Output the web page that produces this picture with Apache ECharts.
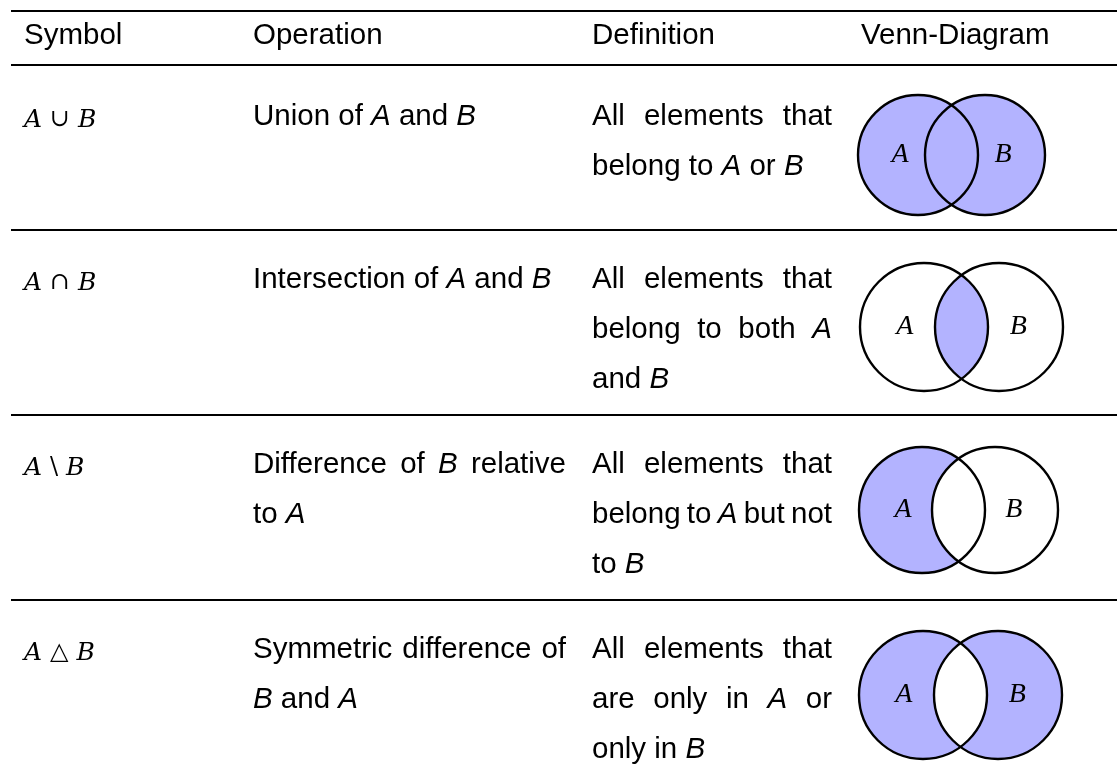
<!DOCTYPE html>
<html><head><meta charset="utf-8">
<script src="https://cdn.jsdelivr.net/npm/echarts@6/dist/echarts.min.js"></script>
<style>html,body{margin:0;padding:0;background:#fff}#c{width:1117px;height:778px}</style>
</head><body><div id="c"></div>
<script>
// ---------------- data ----------------
const headers = ['Symbol', 'Operation', 'Definition', 'Venn-Diagram'];
const symbolLeft = ['A', 'A', 'A', 'A'];
const symbolOps = ['\u222A', '\u2229', '\\', '\u25B3'];
const symbolRight = ['B', 'B', 'B', 'B'];
const operations = [
  ['Union of *A* and *B*'],
  ['Intersection of *A* and *B*'],
  ['Difference of *B* relative', 'to *A*'],
  ['Symmetric difference of', '*B* and *A*']
];
const definitions = [
  ['All elements that', 'belong to *A* or *B*'],
  ['All elements that', 'belong to both *A*', 'and *B*'],
  ['All elements that', 'belong to *A* but not', 'to *B*'],
  ['All elements that', 'are only in *A* or', 'only in *B*']
];
// shaded regions per row: [A only, A and B, B only]
const vennShading = [[1, 1, 1], [0, 1, 0], [1, 0, 0], [1, 0, 1]];
const vennLabels = ['A', 'B'];

// ---------------- layout / style ----------------
const W = 1117, H = 778;
const FS = 29.5;
const SANS = '"Liberation Sans", Arial, sans-serif';
const SERIF = '"Liberation Serif", "DejaVu Serif", serif';
const MATH = '"DejaVu Serif", serif';
const colX = [24, 253, 592, 861];
const opRight = 566, defRight = 832;
const ruleTop = 11, headerRule = 65;
const rowTop = [65, 230, 415, 600];
const textTop = [117, 280, 465, 650];
const lineH = 50, symOff = 3;
const headerY = 36;
const vennGeom = [
  {x1: 918, x2: 985, r: 60, cy: 155},
  {x1: 924, x2: 999, r: 64, cy: 327},
  {x1: 922, x2: 995, r: 63, cy: 510},
  {x1: 923, x2: 998, r: 64, cy: 695}
];
const FILL = '#b3b3ff';

const ctx = document.createElement('canvas').getContext('2d');
function tw(t, it) { ctx.font = (it ? 'italic ' : '') + FS + 'px ' + SANS; return ctx.measureText(t).width; }

function layoutPara(lines, x0, x1, y0) {
  const out = [];
  lines.forEach((ln, li) => {
    const toks = ln.split(' ').map(w => { const it = /^\*.*\*$/.test(w); return {t: it ? w.slice(1, -1) : w, it}; });
    const ws = toks.map(k => tw(k.t, k.it));
    const sum = ws.reduce((a, b) => a + b, 0);
    const last = li === lines.length - 1;
    const gap = (!last && toks.length > 1) ? (x1 - x0 - sum) / (toks.length - 1) : tw(' ', false);
    let x = x0;
    toks.forEach((k, j) => { out.push({x, y: y0 + li * lineH, t: k.t, it: k.it}); x += ws[j] + gap; });
  });
  return out;
}

function textEl(api, x, y, t, font, align) {
  const p = api.coord([x, y]);
  return {type: 'text', x: p[0], y: p[1], style: {text: t, font: font, fill: '#000', textAlign: align || 'left', textVerticalAlign: 'middle'}};
}
function rule(api, y) {
  const a = api.coord([11, y]), b = api.coord([W, y]);
  return {type: 'line', shape: {x1: a[0], y1: a[1], x2: b[0], y2: b[1]}, style: {stroke: '#000', lineWidth: 2}};
}

const chart = echarts.init(document.getElementById('c'), null, {renderer: 'canvas'});
chart.setOption({
  animation: false,
  backgroundColor: '#fff',
  grid: {left: 0, right: 0, top: 0, bottom: 0},
  xAxis: {type: 'value', min: 0, max: W, show: false},
  yAxis: {type: 'value', min: 0, max: H, inverse: true, show: false},
  series: [
    {
      type: 'custom', name: 'header', data: [0],
      renderItem: (params, api) => {
        const ch = [rule(api, ruleTop), rule(api, headerRule)];
        headers.forEach((h, i) => ch.push(textEl(api, colX[i], headerY, h, FS + 'px ' + SANS)));
        return {type: 'group', children: ch};
      }
    },
    {
      type: 'custom', name: 'rows', data: rowTop.map((_, i) => i),
      renderItem: (params, api) => {
        const i = api.value(0);
        const top = rowTop[i];
        const ch = [];
        if (i > 0) ch.push(rule(api, top));
        const sp = api.coord([colX[0], textTop[i] + symOff]);
        ch.push({type: 'text', x: sp[0], y: sp[1], style: {
          text: '{i|' + symbolLeft[i] + '} {o|' + symbolOps[i] + '} {i|' + symbolRight[i] + '}',
          font: '25px ' + MATH, fill: '#000', textAlign: 'left', textVerticalAlign: 'middle',
          rich: {
            i: {fontFamily: MATH, fontStyle: 'italic', fontSize: 25, fill: '#000'},
            o: {fontFamily: MATH, fontSize: 24, fill: '#000'}
          }
        }});
        layoutPara(operations[i], colX[1], opRight, textTop[i]).forEach(w =>
          ch.push(textEl(api, w.x, w.y, w.t, (w.it ? 'italic ' : '') + FS + 'px ' + SANS)));
        layoutPara(definitions[i], colX[2], defRight, textTop[i]).forEach(w =>
          ch.push(textEl(api, w.x, w.y, w.t, (w.it ? 'italic ' : '') + FS + 'px ' + SANS)));
        return {type: 'group', children: ch};
      }
    },
    {
      type: 'custom', name: 'venn', data: vennShading.map((_, i) => i),
      renderItem: (params, api) => {
        const i = api.value(0);
        const g = vennGeom[i];
        const c1 = api.coord([g.x1, g.cy]), c2 = api.coord([g.x2, g.cy]);
        const r = api.size([g.r, 0])[0];
        const d = c2[0] - c1[0];
        const xm = (c1[0] + c2[0]) / 2, cy = c1[1];
        const h = Math.sqrt(r * r - d * d / 4);
        const P1 = xm + ' ' + (cy - h), P2 = xm + ' ' + (cy + h);
        const paths = [
          `M${P1} A${r} ${r} 0 1 0 ${P2} A${r} ${r} 0 0 1 ${P1} Z`,
          `M${P1} A${r} ${r} 0 0 1 ${P2} A${r} ${r} 0 0 1 ${P1} Z`,
          `M${P1} A${r} ${r} 0 1 1 ${P2} A${r} ${r} 0 0 0 ${P1} Z`
        ];
        const ch = [];
        vennShading[i].forEach((s, k) => {
          if (s) ch.push({type: 'path', shape: {pathData: paths[k]}, style: {fill: FILL, stroke: FILL, lineWidth: 1}});
        });
        ch.push({type: 'circle', shape: {cx: c1[0], cy: cy, r: r}, style: {fill: null, stroke: '#000', lineWidth: 2.4}});
        ch.push({type: 'circle', shape: {cx: c2[0], cy: cy, r: r}, style: {fill: null, stroke: '#000', lineWidth: 2.4}});
        ch.push(textEl(api, g.x1 - 0.3 * g.r, g.cy, vennLabels[0], 'italic 28px ' + SERIF, 'center'));
        ch.push(textEl(api, g.x2 + 0.3 * g.r, g.cy, vennLabels[1], 'italic 28px ' + SERIF, 'center'));
        return {type: 'group', children: ch};
      }
    }
  ]
});
</script>
</body></html>
